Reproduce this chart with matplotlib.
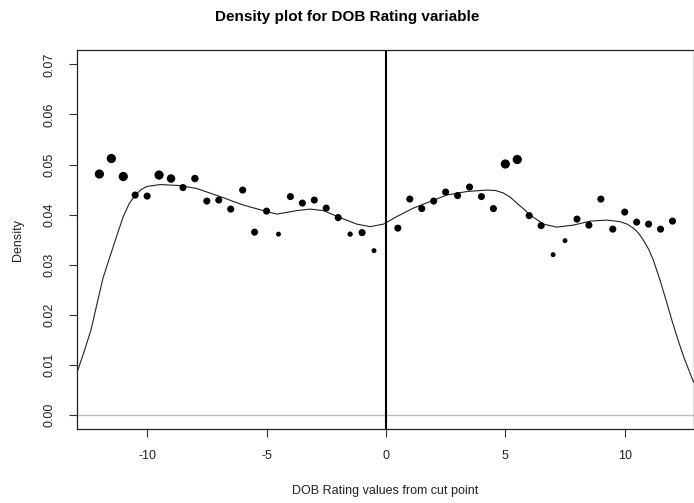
import matplotlib
matplotlib.use("Agg")
import matplotlib.pyplot as plt
import numpy as np

plt.rcParams['font.family'] = ['Liberation Sans', 'DejaVu Sans']

# binned points
bin_x = [-12, -11.5, -11, -10.5, -10, -9.5, -9, -8.5, -8, -7.5, -7, -6.5,
         -6, -5.5, -5, -4.5, -4, -3.5, -3, -2.5, -2, -1.5, -1, -0.5,
         0.5, 1, 1.5, 2, 2.5, 3, 3.5, 4, 4.5, 5, 5.5, 6, 6.5, 7, 7.5, 8,
         8.5, 9, 9.5, 10, 10.5, 11, 11.5, 12]
bin_density = [0.0481, 0.0512, 0.0476, 0.0439, 0.0437, 0.0479, 0.0472, 0.0454,
               0.0472, 0.0427, 0.0429, 0.0411, 0.0449, 0.0365, 0.0407, 0.0361,
               0.0436, 0.0423, 0.0429, 0.0413, 0.0394, 0.0361, 0.0364, 0.0328,
               0.0373, 0.0431, 0.0412, 0.0427, 0.0445, 0.0438, 0.0455, 0.0436,
               0.0412, 0.0501, 0.0510, 0.0398, 0.0378, 0.0320, 0.0348, 0.0391,
               0.0379, 0.0431, 0.0371, 0.0405, 0.0385, 0.0381, 0.0371, 0.0387]
point_weight = [1.3, 1.3, 1.3, 1.0, 1.0, 1.3, 1.2, 1.0, 1.05, 1.0, 1.0, 1.0,
                1.0, 1.0, 1.0, 0.7, 1.0, 1.0, 1.0, 1.0, 1.0, 0.75, 1.0, 0.7,
                1.0, 1.0, 1.0, 1.0, 1.0, 1.0, 1.0, 1.0, 1.0, 1.3, 1.3, 1.0,
                1.0, 0.7, 0.7, 1.0, 1.0, 1.0, 1.0, 1.0, 1.0, 1.0, 1.0, 1.0]

# kernel density curve
curve_x = [-12.95, -12.65, -12.35, -12.1, -11.85, -11.6, -11.42, -11.2, -11.0,
           -10.75, -10.5, -10.25, -10.02, -9.46, -8.62, -7.92, -6.94, -5.97,
           -4.99, -4.57, -3.73, -3.17, -2.62, -1.92, -1.22, -0.66, -0.1, 0.45,
           1.15, 1.85, 2.54, 3.38, 4.22, 4.6, 4.92, 5.2, 5.48, 5.75, 6.04, 6.6,
           7.15, 7.85, 8.56, 9.25, 9.8, 10.1, 10.36, 10.58, 10.78, 11.0, 11.2,
           11.48, 11.75, 12.0, 12.25, 12.5, 12.88]
curve_y = [0.0083, 0.0125, 0.0170, 0.0222, 0.0273, 0.0310, 0.0336, 0.0368, 0.0396,
           0.0422, 0.0439, 0.0450, 0.0456, 0.0460, 0.0458, 0.0452, 0.0436, 0.0419,
           0.0406, 0.0401, 0.0408, 0.0411, 0.0408, 0.0394, 0.0381, 0.0376, 0.0381,
           0.0396, 0.0413, 0.0426, 0.0439, 0.0446, 0.0449, 0.0448, 0.0443, 0.0435,
           0.0423, 0.0412, 0.0399, 0.0381, 0.0375, 0.0379, 0.0387, 0.0389, 0.0386,
           0.0381, 0.0373, 0.0363, 0.0349, 0.0331, 0.0309, 0.0269, 0.0226, 0.0185,
           0.0147, 0.0112, 0.0066]

x_ticks = [-10, -5, 0, 5, 10]
y_ticks = [0.00, 0.01, 0.02, 0.03, 0.04, 0.05, 0.06, 0.07]

fig = plt.figure(figsize=(6.94, 5.03), dpi=100)
ax = fig.add_axes([76.7 / 694, 1 - 429 / 503, (693.5 - 76.7) / 694, (429 - 50.3) / 503])

ax.axhline(0, color='#bebebe', lw=1.0, zorder=1)
ax.plot(curve_x, curve_y, color='#222222', lw=0.8, zorder=2)
ax.axvline(0, color='black', lw=1.5, zorder=3)
sizes = [(w * 5.1) ** 2 for w in point_weight]
ax.scatter(bin_x, bin_density, s=sizes, color='black', edgecolors='none', zorder=4)

ax.set_xlim(-12.95, 12.88)
ax.set_ylim(-0.0028, 0.0728)
ax.set_xticks(x_ticks)
ax.set_xticklabels([str(t) for t in x_ticks])
ax.set_yticks(y_ticks)
ax.set_yticklabels([f"{t:.2f}" for t in y_ticks], rotation=90, va='center')
ax.tick_params(direction='out', length=6, width=0.8, labelsize=9, colors='#333333',
               labelcolor='#222222')
ax.tick_params(axis='x', pad=9)
ax.tick_params(axis='y', pad=9)
for s in ax.spines.values():
    s.set_color('#222222')
    s.set_linewidth(0.9)

ax.set_xlabel('DOB Rating values from cut point', fontsize=9, labelpad=17, color='#222222')
ax.set_ylabel('Density', fontsize=9, labelpad=14, color='#222222')
fig.text(0.5, 1 - 17 / 503, 'Density plot for DOB Rating variable',
         ha='center', va='center', fontsize=11, fontweight='bold')

fig.savefig('out.png', dpi=100)
